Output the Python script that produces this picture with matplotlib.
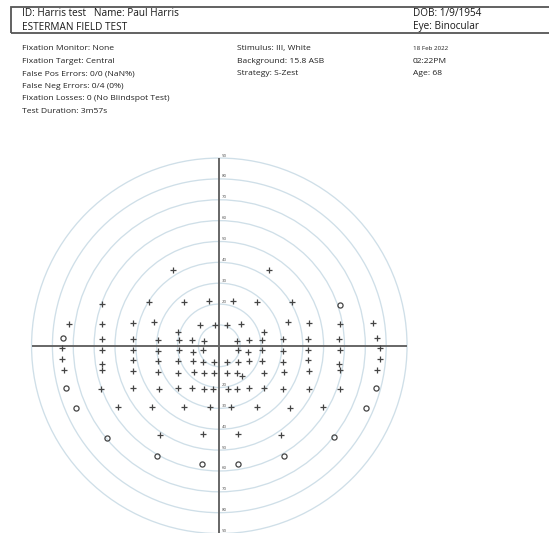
import matplotlib
matplotlib.use("Agg")
import matplotlib.pyplot as plt
from matplotlib.patches import Circle, Rectangle

# ---------------- data (degrees) ----------------
seen_x = [-22.3, 24.0, -56.4, -33.6, -16.7, -4.8, 6.4, 18.2, 34.9,
          -72.0, -56.4, -41.5, -31.4, -9.1, -2.1, 3.7, 10.6, 32.8, 42.9, 57.9, 73.5,
          -19.8, 21.2,
          -56.3, -41.2, -29.2, -19.3, -12.9, -7.1, 8.6, 14.4, 20.3, 30.4, 42.6, 57.6, 75.7,
          -75.3, -56.2, -41.2, -29.2, -19.2, -12.4, -7.7, 9.1, 13.9, 20.3, 30.4, 42.6, 57.9, 76.8,
          -75.6, -56.2, -41.2, -29.2, -19.6, -12.5, -7.7, -2.5, 3.9, 9.1, 14.0, 20.5, 30.5, 42.7, 57.6, 76.9,
          -74.3, -56.4, -41.5, -29.5, -19.6, -12.0, -7.2, -2.4, 3.9, 8.3, 11.0, 21.2, 31.0, 43.0, 57.9, 75.8,
          -56.6, -41.5, -29.1, -19.6, -12.9, -7.2, -2.8, 4.4, 8.3, 14.4, 21.2, 30.5, 42.9, 58.0,
          -48.4, -32.4, -16.8, -4.5, 5.8, 17.9, 33.9, 49.9,
          -28.3, -7.8, 9.1, 29.8]
seen_y = [36.3, 36.3, 19.9, 20.9, 21.0, 21.5, 21.5, 21.0, 20.8,
          10.6, 10.4, 10.8, 11.3, 10.2, 10.1, 10.2, 10.3, 11.3, 10.8, 10.4, 10.7,
          6.6, 6.6,
          3.1, 3.1, 3.0, 3.0, 2.8, 2.4, 2.4, 2.8, 3.0, 3.1, 3.2, 3.2, 3.7,
          -1.2, -2.0, -2.0, -2.3, -2.2, -3.1, -2.0, -2.0, -3.1, -2.2, -2.3, -1.9, -2.0, -1.2,
          -6.5, -8.6, -7.0, -7.5, -7.5, -7.4, -7.7, -7.8, -7.9, -7.8, -7.4, -7.5, -7.9, -7.0, -8.8, -6.4,
          -11.7, -11.8, -11.9, -12.5, -12.8, -12.6, -12.9, -13.1, -13.2, -13.2, -14.3, -12.8, -12.6, -11.9, -11.8, -11.7,
          -20.6, -20.3, -20.6, -20.0, -20.0, -20.8, -20.6, -20.6, -20.8, -20.1, -20.1, -20.7, -20.5, -20.7,
          -29.3, -29.5, -29.5, -29.3, -29.5, -29.5, -29.7, -29.5,
          -42.9, -42.4, -42.4, -42.9]

missed_x = [57.9, -74.7, -73.6, 74.9, -68.9, 70.1, -54.0, 54.8, -30.1, 31.0, -8.1, 9.1]
missed_y = [19.7, 3.5, -20.0, -20.0, -29.7, -29.6, -44.0, -43.9, -52.7, -52.7, -56.5, -56.5]

ring_radii = [10, 20, 30, 40, 50, 60, 70, 80, 90]
label_radii = [20, 30, 40, 50, 60, 70, 80, 90]

header_left = ["ID: Harris test   Name: Paul Harris", "ESTERMAN FIELD TEST"]
header_right = ["DOB: 1/9/1954", "Eye: Binocular"]
info_col1 = ["Fixation Monitor: None", "Fixation Target: Central",
             "False Pos Errors: 0/0 (NaN%)", "False Neg Errors: 0/4 (0%)",
             "Fixation Losses: 0 (No Blindspot Test)", "Test Duration: 3m57s"]
info_col2 = ["Stimulus: III, White", "Background: 15.8 ASB", "Strategy: S-Zest"]
info_col3 = ["18 Feb 2022", "02:22PM", "Age: 68"]

# ---------------- figure ----------------
W, H = 549, 533
fig = plt.figure(figsize=(W / 100, H / 100), dpi=100)
plt.rcParams['font.family'] = ['Open Sans', 'DejaVu Sans']

cx, cy, s = 219.3, 345.8, 2.086  # pixel center & px per degree
ax = fig.add_axes([0, 0, 1, 1])
ax.set_xlim(-cx / s, (W - cx) / s)
ax.set_ylim((cy - H) / s, cy / s)
ax.axis('off')

for r in ring_radii:
    ax.add_patch(Circle((0, 0), r, fill=False, ec='#cfdfe8', lw=0.95, zorder=1))

ax.plot([-90, 90], [0, 0], color='#666666', lw=1.4, zorder=2, solid_capstyle='butt')
ax.plot([0, 0], [-90, 90], color='#666666', lw=1.4, zorder=2, solid_capstyle='butt')

for r in label_radii:
    for sign in (1, -1):
        ax.text(1.3, sign * r + 1.2, str(r), fontsize=3.2, color='#555555',
                ha='left', va='center', zorder=3)

ax.plot(seen_x, seen_y, linestyle='none', marker='+', ms=3.8, mew=0.9,
        color='#444444', zorder=4)
ax.plot(missed_x, missed_y, linestyle='none', marker='o', ms=3.7, mew=0.9,
        mfc='none', mec='#444444', zorder=4)

# ---------------- header ----------------
def px(x, y):
    return x / W, 1 - y / H

fig.patches.append(Rectangle(px(11, 33), (W + 5 - 11) / W, 26 / H, transform=fig.transFigure,
                             fill=False, ec='#555555', lw=1.3))
for i, t in enumerate(header_left):
    fig.text(*px(22, 14 + 13 * i), t, fontsize=7.2, color='#1a1a1a', ha='left', va='center')
for i, t in enumerate(header_right):
    fig.text(*px(413, 14 + 13 * i), t, fontsize=7.2, color='#1a1a1a', ha='left', va='center')
for i, t in enumerate(info_col1):
    fig.text(*px(22, 48.5 + 12.6 * i), t, fontsize=6.1, color='#222222', ha='left', va='center')
for i, t in enumerate(info_col2):
    fig.text(*px(237, 48.5 + 12.6 * i), t, fontsize=6.1, color='#222222', ha='left', va='center')
for i, t in enumerate(info_col3):
    fig.text(*px(413, 48.5 + 12.6 * i), t, fontsize=(4.5 if i == 0 else 6.1),
             color='#222222', ha='left', va='center')

fig.savefig('out.png', dpi=100)
